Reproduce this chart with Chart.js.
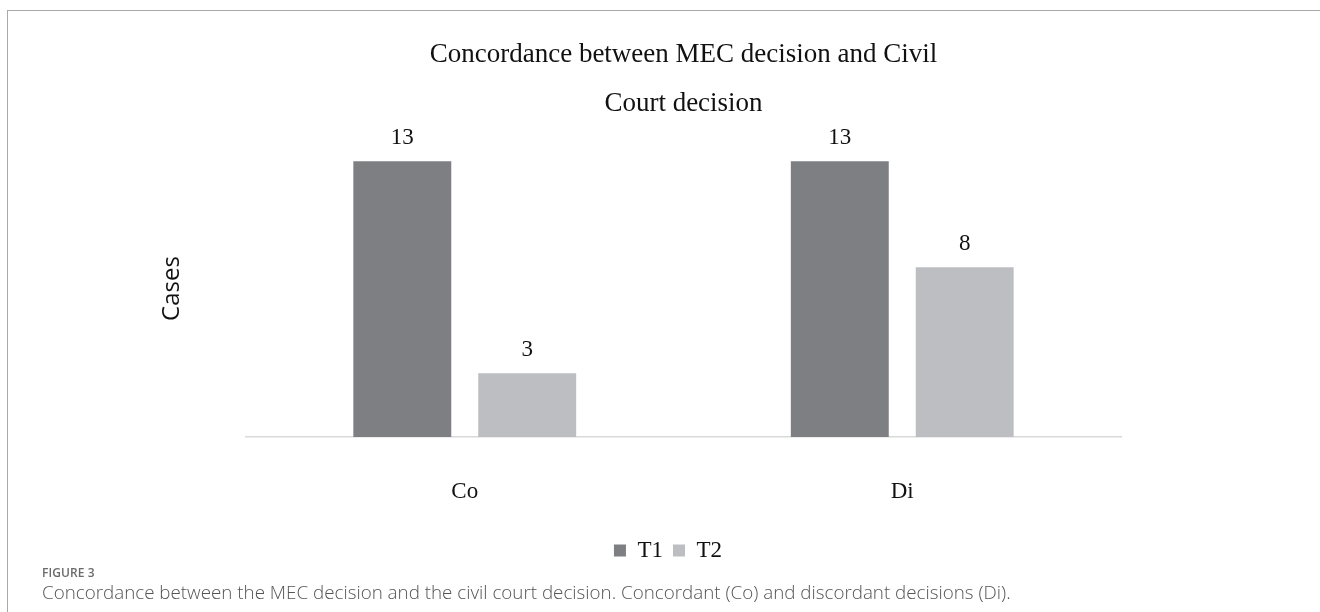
<!DOCTYPE html>
<html>
<head>
<meta charset="utf-8">
<script src="https://cdn.jsdelivr.net/npm/chart.js@4.4.1/dist/chart.umd.min.js"></script>
<style>
  html, body { margin: 0; padding: 0; background: #fff; }
  body { width: 1320px; height: 612px; position: relative; overflow: hidden; }
  #frame { position: absolute; left: 7px; top: 10px; right: -2px; bottom: -2px;
           border-top: 1px solid #a9a9a9; border-left: 1px solid #a9a9a9; }
  #wrap { position: absolute; left: 0; top: 0; width: 1320px; height: 572px; }
  #fig { position: absolute; left: 42px; top: 564px; font-family: "Open Sans", sans-serif;
         font-size: 12px; font-weight: 600; color: #6b6b6b; letter-spacing: 0.1px; }
  #cap { position: absolute; left: 42px; top: 579px; font-family: "Open Sans", sans-serif;
         font-size: 18.8px; font-weight: 300; color: #555; white-space: nowrap; }
</style>
</head>
<body>
<div id="frame"></div>
<div id="wrap"><canvas id="chart" width="1320" height="572"></canvas></div>
<div id="fig">FIGURE 3</div>
<div id="cap">Concordance between the MEC decision and the civil court decision. Concordant (Co) and discordant decisions (Di).</div>
<script>
// Categories and series values
const categories = ['Co', 'Di'];
const seriesNames = ['T1', 'T2'];
const t1Values = [13, 13];
const t2Values = [3, 8];
const titleLines = ['Concordance between MEC decision and Civil', 'Court decision'];
const yAxisTitle = 'Cases';

const SERIF = '"Liberation Serif", "DejaVu Serif", serif';

// Writes each bar's value just above its top
const valueLabels = {
  id: 'valueLabels',
  afterDatasetsDraw(chart) {
    const ctx = chart.ctx;
    ctx.save();
    ctx.font = '23px ' + SERIF;
    ctx.fillStyle = '#111';
    ctx.textAlign = 'center';
    ctx.textBaseline = 'bottom';
    chart.data.datasets.forEach((ds, i) => {
      chart.getDatasetMeta(i).data.forEach((bar, j) => {
        ctx.fillText(String(ds.data[j]), bar.x, bar.y - 12);
      });
    });
    ctx.restore();
  }
};

new Chart(document.getElementById('chart'), {
  type: 'bar',
  data: {
    labels: categories,
    datasets: [
      { label: seriesNames[0], data: t1Values, backgroundColor: '#7e7f83',
        categoryPercentage: 0.571, barPercentage: 0.784 },
      { label: seriesNames[1], data: t2Values, backgroundColor: '#bdbec2',
        categoryPercentage: 0.571, barPercentage: 0.784 }
    ]
  },
  options: {
    responsive: false,
    animation: false,
    layout: { padding: { left: 16, right: 0, top: 0, bottom: 0 } },
    scales: {
      x: {
        grid: { display: false, drawTicks: false },
        border: { display: true, color: '#d9d9d9', width: 1.5 },
        ticks: { font: { family: SERIF, size: 23 }, color: '#111', padding: 41 },
        afterFit(s) { s.height = 92; }
      },
      y: {
        min: 0, max: 14,
        grid: { display: false, drawTicks: false },
        border: { display: false },
        ticks: { display: false },
        title: { display: true, text: yAxisTitle, color: '#111',
                 font: { family: '"Open Sans", sans-serif', size: 24 },
                 padding: { top: 142, bottom: 0 } },
        afterFit(s) { s.width = 230; }
      },
      yRight: {
        position: 'right',
        grid: { display: false, drawTicks: false },
        border: { display: false },
        ticks: { display: false },
        afterFit(s) { s.width = 199; }
      }
    },
    plugins: {
      title: {
        display: true, fullSize: false, text: titleLines, color: '#111',
        font: { family: SERIF, size: 27, weight: 'normal', lineHeight: 49 / 27 },
        padding: { top: 30.5, bottom: 11.5 }
      },
      legend: {
        position: 'bottom',
        labels: { boxWidth: 12, boxHeight: 12, padding: 10, color: '#111',
                  font: { family: SERIF, size: 23 } }
      },
      tooltip: { enabled: false }
    }
  },
  plugins: [valueLabels]
});
</script>
</body>
</html>
